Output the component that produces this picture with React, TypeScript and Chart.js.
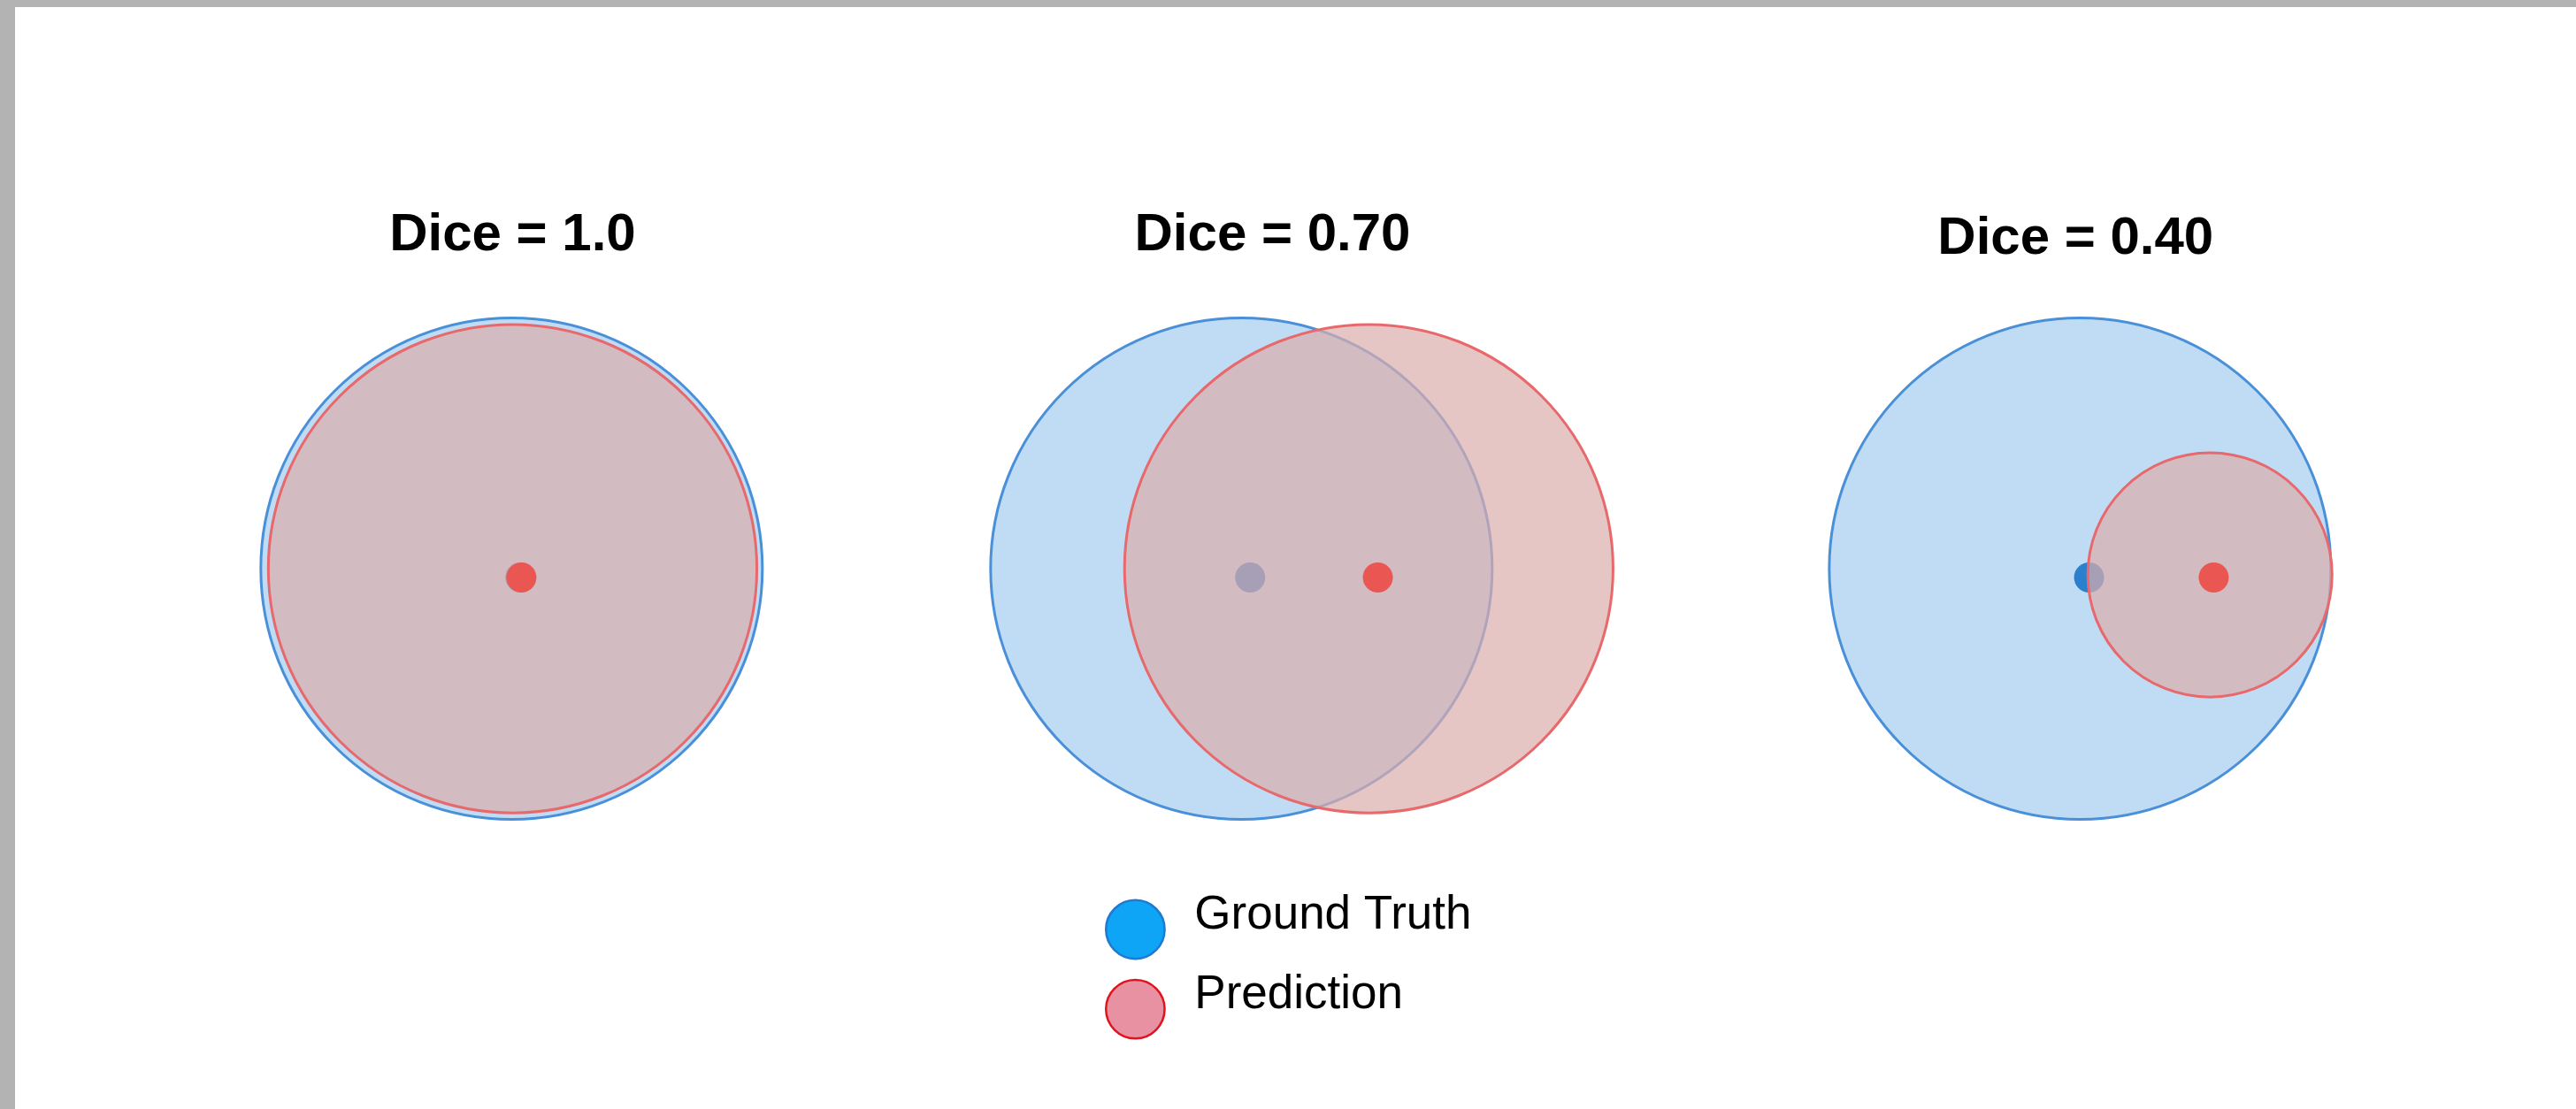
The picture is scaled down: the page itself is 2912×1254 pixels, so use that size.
import React, { useEffect, useRef } from 'react';
import { Chart, registerables } from 'chart.js';

Chart.register(...registerables);

// ---- data (units: ground-truth radius = 1) ----
const panelTitles = ['Dice = 1.0', 'Dice = 0.70', 'Dice = 0.40'];

const gtCenterX = [0, 2.91, 6.254];
const gtCenterY = [0, 0, 0];
const gtRadius = [1, 1, 1];

const predCenterX = [0.004, 3.418, 6.772];
const predCenterY = [0, 0, -0.025];
const predRadius = [0.974, 0.974, 0.487];

const gtCentroidX = [0.035, 2.945, 6.29];
const gtCentroidY = [-0.035, -0.035, -0.035];
const predCentroidX = [0.039, 3.454, 6.787];
const predCentroidY = [-0.035, -0.035, -0.035];

const legendLabels = ['Ground Truth', 'Prediction'];

// ---- layout / style options ----
const X_MIN = -1.98;
const X_MAX = 8.2316;
const Y_MIN = -2.1552;
const Y_MAX = 2.2399;
const titlePosX = [0.004, 3.034, 6.236];
const titlePosY = [1.27, 1.27, 1.256];
const legendMarkerX = 2.487;
const legendTextX = 2.723;
const legendMarkerY = [-1.439, -1.757];
const legendTextY = [-1.436, -1.753];
const legendMarkerR = 0.117;

const GT_FILL = '#c0dcf5';
const GT_LINE = '#4a90d9';
const PRED_FILL = 'rgba(220,172,172,0.7)';
const PRED_LINE = '#e8696b';
const GT_DOT = '#2b7fcd';
const PRED_DOT = '#ea5752';
const LEGEND_FILL = ['#0ea5f7', '#e891a3'];
const LEGEND_LINE = ['#1f7ad0', '#e0131f'];

const FONT = '"Liberation Sans", Arial, Helvetica, sans-serif';

const unitPx = (chart: any) => {
  const s = chart.scales.x;
  return Math.abs(s.getPixelForValue(1) - s.getPixelForValue(0));
};

const overlayPlugin = {
  id: 'diceOverlay',
  afterDraw(chart: any) {
    const { ctx } = chart;
    const xs = chart.scales.x;
    const ys = chart.scales.y;
    ctx.save();
    ctx.fillStyle = '#000';
    ctx.textAlign = 'center';
    ctx.textBaseline = 'alphabetic';
    ctx.font = `bold 60px ${FONT}`;
    panelTitles.forEach((t, i) => {
      ctx.fillText(t, xs.getPixelForValue(titlePosX[i]), ys.getPixelForValue(titlePosY[i]));
    });
    const u = unitPx(chart);
    legendLabels.forEach((lab, i) => {
      ctx.beginPath();
      ctx.arc(xs.getPixelForValue(legendMarkerX), ys.getPixelForValue(legendMarkerY[i]), legendMarkerR * u, 0, Math.PI * 2);
      ctx.fillStyle = LEGEND_FILL[i];
      ctx.fill();
      ctx.lineWidth = 2.5;
      ctx.strokeStyle = LEGEND_LINE[i];
      ctx.stroke();
      ctx.fillStyle = '#000';
      ctx.textAlign = 'left';
      ctx.font = `53px ${FONT}`;
      ctx.fillText(lab, xs.getPixelForValue(legendTextX), ys.getPixelForValue(legendTextY[i]));
    });
    ctx.restore();
  },
};

export default function App() {
  const ref = useRef<HTMLCanvasElement | null>(null);

  useEffect(() => {
    if (!ref.current) return;
    const circle = (xs: number[], ys: number[], rs: number[]) =>
      xs.map((x, i) => ({ x, y: ys[i], rr: rs[i] }));
    const dots = (xs: number[], ys: number[]) => xs.map((x, i) => ({ x, y: ys[i] }));

    const chart = new Chart(ref.current, {
      type: 'scatter',
      data: {
        datasets: [
          {
            label: 'Ground Truth',
            data: circle(gtCenterX, gtCenterY, gtRadius) as any,
            order: 4,
            pointRadius: (c: any) => (c.raw ? c.raw.rr * unitPx(c.chart) : 0),
            pointBackgroundColor: GT_FILL,
            pointBorderColor: GT_LINE,
            pointBorderWidth: 3,
          },
          {
            label: 'Ground Truth centroid',
            data: dots(gtCentroidX, gtCentroidY),
            order: 3,
            pointRadius: 17,
            pointBackgroundColor: GT_DOT,
            pointBorderWidth: 0,
          },
          {
            label: 'Prediction',
            data: circle(predCenterX, predCenterY, predRadius) as any,
            order: 2,
            pointRadius: (c: any) => (c.raw ? c.raw.rr * unitPx(c.chart) : 0),
            pointBackgroundColor: PRED_FILL,
            pointBorderColor: PRED_LINE,
            pointBorderWidth: 3,
          },
          {
            label: 'Prediction centroid',
            data: dots(predCentroidX, predCentroidY),
            order: 1,
            pointRadius: 17,
            pointBackgroundColor: PRED_DOT,
            pointBorderWidth: 0,
          },
        ],
      },
      options: {
        animation: false,
        responsive: true,
        maintainAspectRatio: false,
        events: [],
        layout: { padding: 0, autoPadding: false },
        scales: {
          x: { type: 'linear', min: X_MIN, max: X_MAX, display: false },
          y: { type: 'linear', min: Y_MIN, max: Y_MAX, display: false },
        },
        plugins: {
          legend: { display: false },
          title: { display: false },
          tooltip: { enabled: false },
        },
      } as any,
      plugins: [overlayPlugin],
    });
    return () => chart.destroy();
  }, []);

  return (
    <div style={{ position: 'fixed', inset: 0, background: '#b3b3b3' }}>
      <div
        style={{
          position: 'absolute',
          left: 17,
          top: 8,
          width: 2895,
          height: 1246,
          background: '#ffffff',
        }}
      >
        <canvas ref={ref} />
      </div>
    </div>
  );
}
